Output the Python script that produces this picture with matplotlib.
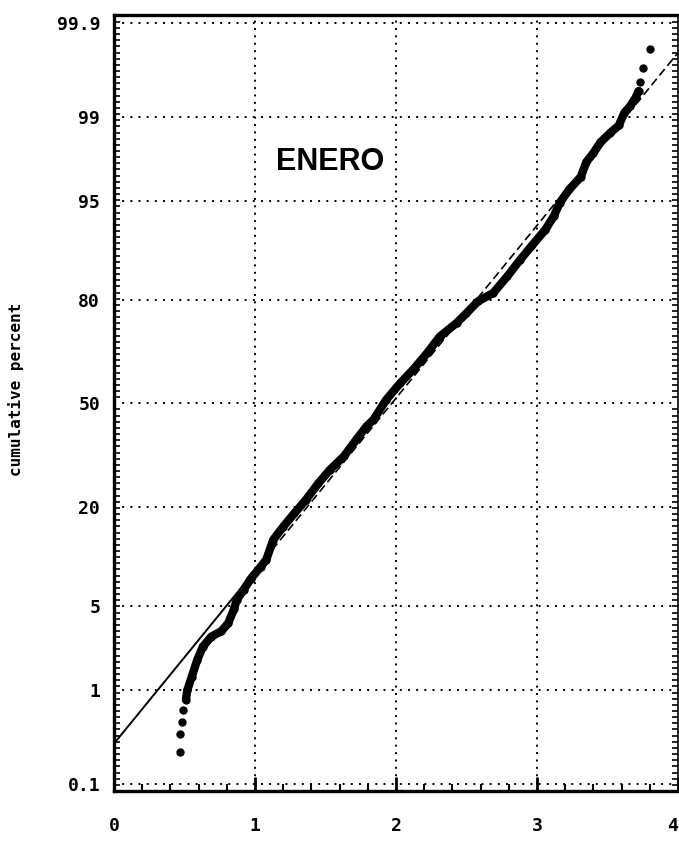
import numpy as np
import matplotlib
matplotlib.use('Agg')
import matplotlib.pyplot as plt
from matplotlib.ticker import FixedLocator, FixedFormatter
from matplotlib.patches import Rectangle
from matplotlib.transforms import blended_transform_factory
from statistics import NormalDist

obs_x = [0.47, 0.47, 0.48, 0.49, 0.51, 0.52, 0.55, 0.59, 0.63, 0.69, 0.76,
         0.81, 0.85, 0.87, 0.92, 0.97, 1.04, 1.08, 1.13, 1.20, 1.28, 1.36,
         1.45, 1.53, 1.63, 1.72, 1.79, 1.84, 1.93, 2.03, 2.12, 2.22, 2.31,
         2.43, 2.50, 2.58, 2.69, 2.79, 2.88, 2.96, 3.06, 3.12, 3.16, 3.23,
         3.31, 3.35, 3.40, 3.45, 3.52, 3.58, 3.62, 3.66, 3.70, 3.72, 3.73,
         3.75, 3.80]
obs_pct = [0.23, 0.36, 0.48, 0.63, 0.80, 0.99, 1.3, 1.85, 2.4, 2.9, 3.2,
           3.7, 4.7, 5.5, 6.5, 7.7, 9.2, 10.2, 13.4, 15.8, 18.6, 21.6,
           25.8, 29.4, 33.3, 38.5, 42.5, 44.7, 51.1, 56.5, 60.7, 65.8, 70.6,
           74.3, 76.8, 79.6, 81.5, 84.9, 87.8, 89.9, 92.1, 93.6, 94.8, 95.9,
           96.7, 97.5, 97.9, 98.3, 98.6, 98.8, 99.09, 99.21, 99.35, 99.44, 99.55,
           99.68, 99.80]

# Fitted normal line (end points)
fit_x = [0.0, 4.0]
fit_pct = [0.285, 99.78]

y_ticks = [0.1, 1, 5, 20, 50, 80, 95, 99, 99.9]
y_labels = ['0.1', '1', '5', '20', '50', '80', '95', '99', '99.9']
x_ticks = [0, 1, 2, 3, 4]

nd = NormalDist()


def to_z(p):
    p = np.clip(np.asarray(p, dtype=float) / 100.0, 1e-9, 1 - 1e-9)
    return np.vectorize(nd.inv_cdf)(p)


def from_z(z):
    return np.vectorize(nd.cdf)(np.asarray(z, dtype=float)) * 100.0


fig = plt.figure(figsize=(6.79, 8.56), dpi=100)
ax = fig.add_axes([0.1679, 0.0759, 0.8306, 0.9066])
ax.set_yscale('function', functions=(to_z, from_z))
ax.set_xlim(0, 4)
ax.set_ylim(float(from_z(-3.15)), float(from_z(3.155)))

# grid
for yt in y_ticks:
    ax.axhline(yt, color='black', lw=1.4, ls=(0, (1, 3.2)), zorder=1)
for xt in [1, 2, 3]:
    ax.axvline(xt, color='black', lw=1.4, ls=(0, (1, 2.8)), zorder=1)

# fitted line: solid at left, dashed further up
trans = blended_transform_factory(ax.transData, ax.transAxes)
solid, = ax.plot(fit_x, fit_pct, color='black', lw=1.4, zorder=2)
solid.set_clip_path(Rectangle((0, 0), 1.0, 1, transform=trans))
dashed, = ax.plot(fit_x, fit_pct, color='black', lw=1.2, ls=(0, (5, 2.5)), zorder=2)
dashed.set_clip_path(Rectangle((1.0, 0), 3.0, 1, transform=trans))

# data: dense points drawn as a thick trace, separate dots in the tails
ax.plot(obs_x[4:-3], obs_pct[4:-3], color='black', lw=6,
        solid_capstyle='round', solid_joinstyle='round', zorder=3)
ax.plot(obs_x, obs_pct, 'o', color='black', ms=5, zorder=4)

# axes styling
for side in ['left', 'bottom', 'top']:
    ax.spines[side].set_linewidth(2.4)
ax.spines['right'].set_linewidth(1.2)

tick_font = dict(family='DejaVu Sans Mono', weight='bold', size=13)
ax.yaxis.set_major_locator(FixedLocator(y_ticks))
ax.yaxis.set_major_formatter(FixedFormatter(y_labels))
ax.yaxis.set_minor_locator(FixedLocator(list(from_z(np.arange(-3.15, 3.16, 0.05)))))
ax.tick_params(axis='y', which='major', length=0, pad=10)
ax.tick_params(axis='y', which='minor', direction='in', length=4, width=1.2,
               left=True, right=True)
ax.set_xticks(x_ticks)
ax.set_xticklabels([str(v) for v in x_ticks])
ax.set_xticks(np.arange(0, 4.01, 0.2), minor=True)
ax.tick_params(axis='x', which='major', direction='in', length=10, width=2, pad=19)
ax.tick_params(axis='x', which='minor', direction='in', length=5, width=1.5)
for lab in ax.get_yticklabels() + ax.get_xticklabels():
    lab.set_fontfamily(tick_font['family'])
    lab.set_fontweight(tick_font['weight'])
    lab.set_fontsize(tick_font['size'])
# last x label sits at the figure edge
ax.get_xticklabels()[-1].set_horizontalalignment('right')

ax.set_ylabel('cumulative percent', family='DejaVu Sans Mono', weight='bold',
              fontsize=11.5)
ax.yaxis.set_label_coords(-0.16, 0.517)

ax.text(0.383, 0.81, 'ENERO', transform=ax.transAxes, ha='center', va='center',
        family='Liberation Sans', weight='bold', fontsize=22)

fig.savefig('out.png', dpi=100)
